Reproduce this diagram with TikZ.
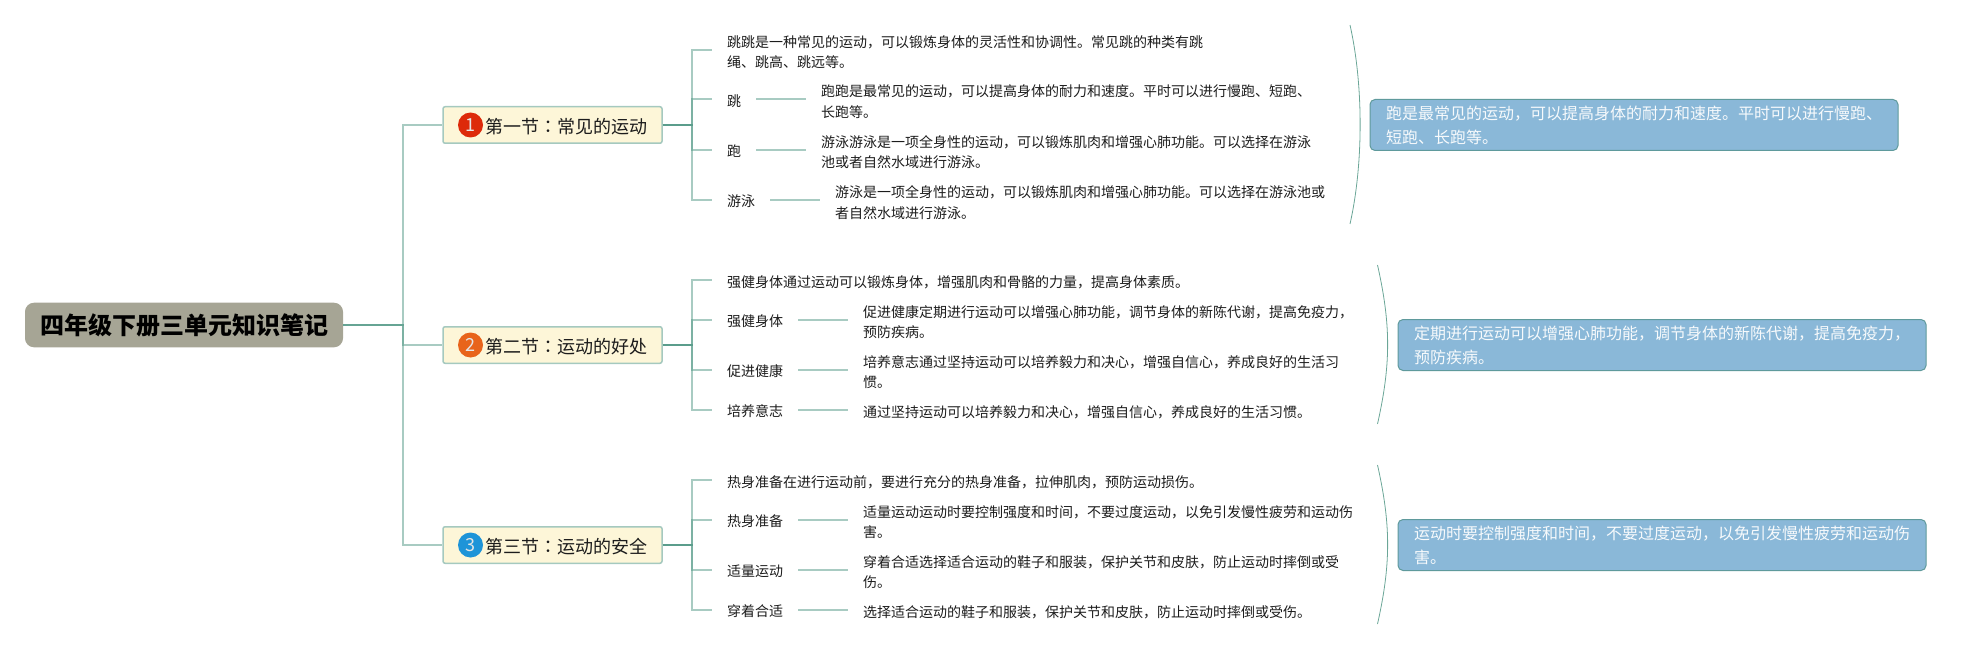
\documentclass[tikz,border=0pt]{standalone}
\usepackage{fontspec}
\setmainfont{Noto Sans CJK SC}
\newfontfamily\colonfont{Noto Sans CJK TC}
\definecolor{linkc}{HTML}{519785}
\definecolor{rootc}{HTML}{A6A595}
\definecolor{secc}{HTML}{FDF6D8}
\definecolor{secline}{HTML}{A5C9BF}
\definecolor{notec}{HTML}{8AB8D8}
\definecolor{noteline}{HTML}{5F9A9C}
\definecolor{inkc}{HTML}{1C1C1C}
\definecolor{redc}{HTML}{DD2A0A}
\definecolor{orangec}{HTML}{E8641B}
\definecolor{bluec}{HTML}{1E94D8}
\newcommand{\firststrut}{\rule{0pt}{17pt}}
\tikzset{
  link/.style={linkc,opacity=0.5,line width=1.9pt},
  brace/.style={linkc,opacity=0.85,line width=0.8pt},
  rootbox/.style={fill=rootc,rounded corners=9pt,minimum width=318pt,minimum height=44.6pt,inner sep=0pt,text=black,font=\fontsize{24}{28}\selectfont\bfseries},
  secbox/.style={draw=secline,fill=secc,line width=1.5pt,rounded corners=2pt,minimum width=219pt,minimum height=36.5pt,inner xsep=15pt,inner ysep=0pt,text=inkc,font=\fontsize{18}{22}\selectfont},
  iconc/.style={circle,minimum size=25pt,inner sep=0pt,text=white!90!black,font=\fontsize{18}{20}\selectfont},
  leaf/.style={anchor=west,align=left,inner xsep=15pt,inner ysep=0pt,text=inkc,font=\fontsize{14}{20.5}\selectfont},
  notebox/.style={draw=noteline,fill=notec,line width=1pt,rounded corners=5pt,anchor=west,align=left,inner xsep=16pt,inner ysep=0pt,minimum height=51pt,text=white!93!notec,font=\fontsize{16}{24}\selectfont}
}
\begin{document}
\begin{tikzpicture}[x=1pt,y=-1pt]
\useasboundingbox (0,0) rectangle (1970,650);
% Root and sections
\node[rootbox] (root) at (184,325) {四年级下册三单元知识笔记};
\coordinate (trunk) at (403,325);
\foreach \n/\y/\col/\txta/\txtb in {1/125/redc/第一节/常见的运动, 2/345/orangec/第二节/运动的好处, 3/545/bluec/第三节/运动的安全} {
  \node[secbox] (sec\n) at (552.5,\y) {\rule{0pt}{18pt}\hspace{27pt}\txta{\colonfont ：}\txtb};
  \node[iconc,fill=\col] (icon\n) at (470.5,\y) {\n};
  \coordinate (fork\n) at (692,\y);
  \draw[link] (root.east) -- (trunk) |- (sec\n.west);
}
% First leaf of each section
\foreach \n/\y/\txt in {
  a1/49.7/{跳跳是一种常见的运动，可以锻炼身体的灵活性和协调性。常见跳的种类有跳\\绳、跳高、跳远等。},
  b1/279.7/{强健身体通过运动可以锻炼身体，增强肌肉和骨骼的力量，提高身体素质。},
  c1/479.7/{热身准备在进行运动前，要进行充分的热身准备，拉伸肌肉，预防运动损伤。}} {
  \node[leaf] (\n) at (712,\y) {\firststrut\txt};
}
% Leaves with a text behind them
\foreach \n/\y/\xd/\lab/\txt in {
  a2/99.3/806/跳/{跑跑是最常见的运动，可以提高身体的耐力和速度。平时可以进行慢跑、短跑、\\长跑等。},
  a3/149.7/806/跑/{游泳游泳是一项全身性的运动，可以锻炼肌肉和增强心肺功能。可以选择在游泳\\池或者自然水域进行游泳。},
  a4/200/820/游泳/{游泳是一项全身性的运动，可以锻炼肌肉和增强心肺功能。可以选择在游泳池或\\者自然水域进行游泳。},
  b2/319.7/848/强健身体/{促进健康定期进行运动可以增强心肺功能，调节身体的新陈代谢，提高免疫力，\\预防疾病。},
  b3/369.7/848/促进健康/{培养意志通过坚持运动可以培养毅力和决心，增强自信心，养成良好的生活习\\惯。},
  b4/409.7/848/培养意志/{通过坚持运动可以培养毅力和决心，增强自信心，养成良好的生活习惯。},
  c2/519.7/848/热身准备/{适量运动运动时要控制强度和时间，不要过度运动，以免引发慢性疲劳和运动伤\\害。},
  c3/569.7/848/适量运动/{穿着合适选择适合运动的鞋子和服装，保护关节和皮肤，防止运动时摔倒或受\\伤。},
  c4/609.7/848/穿着合适/{选择适合运动的鞋子和服装，保护关节和皮肤，防止运动时摔倒或受伤。}} {
  \node[leaf] (\n) at (712,\y) {\rule{0pt}{15pt}\lab};
  \node[leaf] (\n txt) at (\xd,\y) {\firststrut\txt};
  \draw[link] (\n.east) -- (\n txt.west);
}
% Section to leaves
\foreach \n/\s in {a/1,b/2,c/3} {
  \foreach \k in {1,2,3,4} {
    \draw[link] (sec\s.east) -- (fork\s) |- (\n\k.west);
  }
}
% Summary curves and notes
\foreach \n/\x/\ya/\yb/\xn/\yn/\wn/\txt in {
  1/1350/25/224/1369.5/125/526/{跑是最常见的运动，可以提高身体的耐力和速度。平时可以进行慢跑、\\短跑、长跑等。},
  2/1377.5/265/424/1397.5/345/526.5/{定期进行运动可以增强心肺功能，调节身体的新陈代谢，提高免疫力，\\预防疾病。},
  3/1377.5/465/624/1397.5/545/526.5/{运动时要控制强度和时间，不要过度运动，以免引发慢性疲劳和运动伤\\害。}} {
  \coordinate (curv\n a) at (\x,\ya);
  \coordinate (curv\n b) at (\x,\yb);
  \draw[brace] (curv\n a) .. controls +(13.5,60) and +(13.5,-60) .. (curv\n b);
  \node[notebox,minimum width=\wn pt] (note\n) at (\xn,\yn) {\txt};
}
\end{tikzpicture}
\end{document}
